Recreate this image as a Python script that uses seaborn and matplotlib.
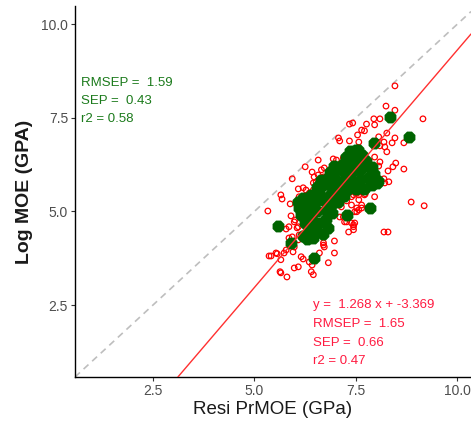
import matplotlib
matplotlib.use("Agg")
import matplotlib.pyplot as plt
import seaborn as sns
import pandas as pd

# red: all samples (hollow circles)
red_x = [8.46, 8.24, 8.46, 9.15, 7.94, 8.09, 7.34, 7.42, 7.76, 7.96, 7.64, 7.71, 7.07, 7.10,
         7.34, 7.54, 7.57, 8.06, 8.19, 8.26, 8.46, 8.39, 8.68, 8.21, 8.26, 8.09, 6.57, 6.94,
         7.02, 7.19, 7.27, 7.96, 8.09, 8.48, 8.29, 8.41, 8.68, 8.06, 7.71, 7.69, 6.25, 6.42,
         6.65, 6.72, 6.47, 6.57, 6.70, 5.93, 6.52, 6.60, 6.45, 8.19, 8.21, 8.31, 6.08, 6.20,
         6.47, 6.45, 7.39, 7.52, 7.59, 5.65, 5.68, 5.88, 6.10, 7.96, 7.71, 7.39, 7.57, 7.12,
         7.14, 7.27, 7.39, 7.52, 7.64, 8.86, 9.18, 5.33, 5.90, 5.98, 6.08, 6.20, 6.22, 7.10,
         7.19, 7.22, 7.39, 7.44, 7.32, 8.19, 8.29, 5.78, 5.85, 6.10, 6.08, 5.78, 5.73, 5.98,
         5.95, 5.53, 5.41, 5.65, 6.15, 6.20, 6.35, 6.42, 6.40, 6.45, 6.60, 6.70, 5.98, 6.08,
         5.65, 5.80, 6.82, 6.97, 6.97, 6.70, 6.72, 5.36, 5.56, 5.63, 5.93, 5.85, 6.27, 6.35,
         6.00, 6.05, 7.44, 7.27, 7.44, 7.44, 7.52, 7.57, 7.64, 7.52, 7.47, 7.57, 7.47, 7.73]
red_y = [8.35, 7.81, 7.70, 7.47, 7.47, 7.47, 7.33, 7.36, 7.33, 7.31, 7.17, 7.15, 6.96, 6.88,
         6.88, 7.04, 6.85, 6.99, 6.85, 7.09, 6.96, 6.83, 6.83, 6.72, 6.59, 6.75, 6.37, 6.40,
         6.37, 6.43, 6.37, 6.45, 6.32, 6.29, 6.08, 6.19, 6.13, 6.21, 6.27, 6.32, 6.19, 6.05,
         6.11, 6.16, 5.92, 5.97, 5.92, 5.87, 5.79, 5.71, 5.76, 5.87, 5.76, 5.79, 5.60, 5.63,
         5.49, 5.57, 5.57, 5.49, 5.52, 5.44, 5.33, 5.20, 5.39, 5.39, 5.44, 5.39, 5.31, 5.23,
         5.12, 5.28, 5.17, 4.99, 5.09, 5.25, 5.15, 5.01, 4.88, 4.72, 4.59, 5.04, 4.91, 4.85,
         4.85, 4.72, 4.69, 4.59, 4.45, 4.45, 4.45, 4.53, 4.59, 4.37, 4.24, 3.97, 3.89, 4.05,
         3.92, 3.89, 3.81, 3.71, 3.79, 3.73, 3.65, 3.57, 3.39, 3.31, 3.89, 4.10, 3.49, 3.52,
         3.36, 3.25, 3.63, 3.89, 4.21, 4.16, 4.05, 3.81, 3.87, 3.39, 4.32, 4.29, 5.57, 5.49,
         4.77, 4.56, 4.51, 4.72, 4.64, 5.44, 5.52, 5.44, 5.17, 5.09, 4.99, 5.04, 4.69, 5.47]

# green: validation samples (filled octagons)
green_x = [8.34, 8.81, 7.94, 5.58, 5.90, 6.47, 7.84, 7.29, 6.08, 8.01, 7.89,
           6.20, 6.30, 6.45, 6.35, 6.55, 6.70, 6.80, 6.25, 6.45, 6.60, 6.75, 6.90, 6.15,
           6.35, 6.55, 6.75, 6.10, 6.30, 6.50, 6.70, 6.90, 7.05, 6.20, 6.40, 6.60, 6.85,
           7.05, 7.20, 6.55, 6.70, 6.90, 7.10, 7.30, 7.50, 7.70, 7.90, 8.05, 6.65, 6.80,
           7.00, 7.20, 7.40, 7.60, 7.80, 7.95, 6.85, 7.00, 7.20, 7.40, 7.60, 7.85, 6.95,
           7.15, 7.35, 7.55, 7.75, 7.25, 7.45, 7.65, 7.35, 7.55, 7.49]
green_y = [7.52, 6.99, 6.83, 4.61, 4.16, 3.76, 5.09, 4.91, 5.25, 5.76, 6.19,
           4.35, 4.25, 4.30, 4.55, 4.45, 4.40, 4.55, 4.70, 4.75, 4.70, 4.80, 4.95, 4.90,
           4.95, 5.00, 5.05, 5.10, 5.15, 5.25, 5.30, 5.20, 5.25, 5.35, 5.45, 5.50, 5.45,
           5.45, 5.40, 5.65, 5.70, 5.65, 5.60, 5.60, 5.60, 5.60, 5.70, 5.80, 5.85, 5.90,
           5.85, 5.80, 5.80, 5.85, 5.90, 6.00, 6.05, 6.10, 6.05, 6.05, 6.10, 6.15, 6.20,
           6.25, 6.25, 6.30, 6.35, 6.45, 6.50, 6.50, 6.60, 6.65, 6.64]

slope = 1.268
intercept = -3.369
stats_green = ["RMSEP =  1.59", "SEP =  0.43", "r2 = 0.58"]
stats_red = ["y =  1.268 x + -3.369", "RMSEP =  1.65", "SEP =  0.66", "r2 = 0.47"]
ticks = [2.5, 5.0, 7.5, 10.0]

sns.set_theme(style="white")
plt.rcParams['font.family'] = ['Liberation Sans', 'DejaVu Sans']

red = pd.DataFrame({"x": red_x, "y": red_y})
green = pd.DataFrame({"x": green_x, "y": green_y})

fig = plt.figure(figsize=(4.71, 4.32), dpi=100)
ax = fig.add_axes([75 / 471, 55 / 432, 396 / 471, 371 / 432])

# 1:1 line and fitted line
ax.axline((0, 0), slope=1, color="#BEBEBE", lw=1.2, ls=(0, (4, 3)), zorder=1)
sns.scatterplot(data=red, x="x", y="y", ax=ax, marker="o", s=16,
                facecolors="none", edgecolor="#FF0000", linewidth=0.9, zorder=2)
sns.scatterplot(data=green, x="x", y="y", ax=ax, marker="8", s=85,
                color="#006400", linewidth=0, zorder=3)
ax.axline((0, intercept), slope=slope, color="#FF3030", lw=1.0, zorder=4)

ax.set_xlim(0.58, 0.58 + 396 / 40.6)
ax.set_ylim(0.58, 0.58 + 371 / 37.47)
ax.set_xticks(ticks)
ax.set_yticks(ticks)
ax.set_xticklabels([f"{t:.1f}" for t in ticks])
ax.set_yticklabels([f"{t:.1f}" for t in ticks])
ax.tick_params(axis="both", length=3, width=0.8, color="#333333",
               labelsize=10, labelcolor="#4D4D4D", pad=2, direction="out",
               bottom=True, left=True)
for side in ["top", "right"]:
    ax.spines[side].set_visible(False)
for side in ["left", "bottom"]:
    ax.spines[side].set_color("black")
    ax.spines[side].set_linewidth(1.0)

ax.set_xlabel("Resi PrMOE (GPa)", fontsize=13.5, color="#1A1A1A", labelpad=2)
ax.set_ylabel("Log MOE (GPA)", fontsize=14, fontweight="bold", color="#1A1A1A", labelpad=6)

for i, s in enumerate(stats_green):
    ax.text(0.73, 8.43 - i * 0.48, s, color="#1B7A1B", fontsize=9.5,
            ha="left", va="center")
for i, s in enumerate(stats_red):
    ax.text(6.44, 2.5 - i * 0.5, s, color="#FF1A40", fontsize=9.5,
            ha="left", va="center")

fig.savefig("out.png", dpi=100)
